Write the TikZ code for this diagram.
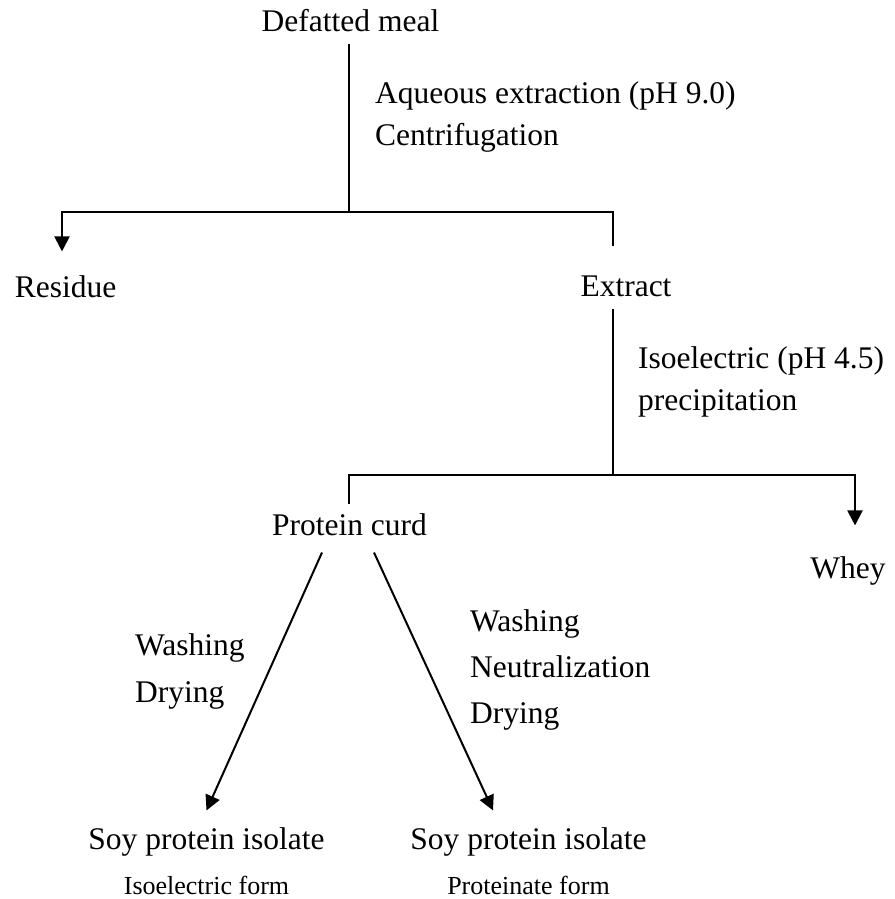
\documentclass[tikz,border=0pt]{standalone}
\usepackage{fontspec}
\setmainfont{Liberation Serif}
\usetikzlibrary{arrows.meta}
\tikzset{
  txt/.style={font=\fontsize{31.5}{38}\selectfont, inner sep=0pt, anchor=base},
  txtl/.style={txt, anchor=base west},
  nota/.style={txt, font=\fontsize{26}{31}\selectfont},
  linea/.style={line width=2pt},
  flecha/.style={linea, -{Triangle[length=15pt,width=15pt]}}
}
\begin{document}
\begin{tikzpicture}[x=1pt,y=-1pt]
  \useasboundingbox (0,0) rectangle (894,899);

  % Etapa 1: harina
  \node[txt] (meal) at (350.5,32) {Defatted meal};
  \node[txtl] (aq) at (375,103) {Aqueous extraction (pH 9.0)};
  \node[txtl] (centr) at (375,145) {Centrifugation};
  \node[txt] (res) at (65.5,297) {Residue};
  \node[txt] (extr) at (626,296) {Extract};

  % Etapa 2: precipitacion
  \node[txtl] (iso) at (638,368) {Isoelectric (pH 4.5)};
  \node[txtl] (prec) at (638,410) {precipitation};
  \node[txt] (curd) at (349.5,535) {Protein curd};
  \node[txt] (whey) at (848,578) {Whey};

  % Etapa 3: aislados
  \node[txtl] (washa) at (135,655) {Washing};
  \node[txtl] (drya) at (135,702) {Drying};
  \node[txtl] (washb) at (470,631) {Washing};
  \node[txtl] (neut) at (470,677) {Neutralization};
  \node[txtl] (dryb) at (470,723) {Drying};
  \node[txt] (spia) at (206.5,849) {Soy protein isolate};
  \node[nota] (forma) at (206.5,894) {Isoelectric form};
  \node[txt] (spib) at (528.5,849) {Soy protein isolate};
  \node[nota] (formb) at (528.5,894) {Proteinate form};

  % Puntos de union
  \coordinate (ja) at (349,212);
  \coordinate (jl) at (62,212);
  \coordinate (jr) at (613,212);
  \coordinate (jb) at (613,475);
  \coordinate (jc) at (349,475);
  \coordinate (jw) at (855,475);
  \coordinate (dl) at ([xshift=-27.5pt,yshift=-17pt]curd.south);
  \coordinate (dr) at ([xshift=24.5pt,yshift=-17pt]curd.south);

  % Conectores
  \draw[linea, shorten <=11pt] (ja |- meal.south) -- (ja);
  \draw[flecha, shorten <=29pt, shorten >=23.5pt] (jr |- extr.north) -- (jr) -- (jl) -- (jl |- res.north);
  \draw[linea, shorten <=12pt] (jb |- extr.south) -- (jb);
  \draw[flecha, shorten <=8.5pt, shorten >=30.5pt] (jc |- curd.north) -- (jc) -- (jw) -- (jw |- whey.north);
  \draw[flecha] (dl) -- ([yshift=16.5pt]spia.north);
  \draw[flecha] (dr) -- ([xshift=-35.5pt,yshift=16.5pt]spib.north);
\end{tikzpicture}
\end{document}
